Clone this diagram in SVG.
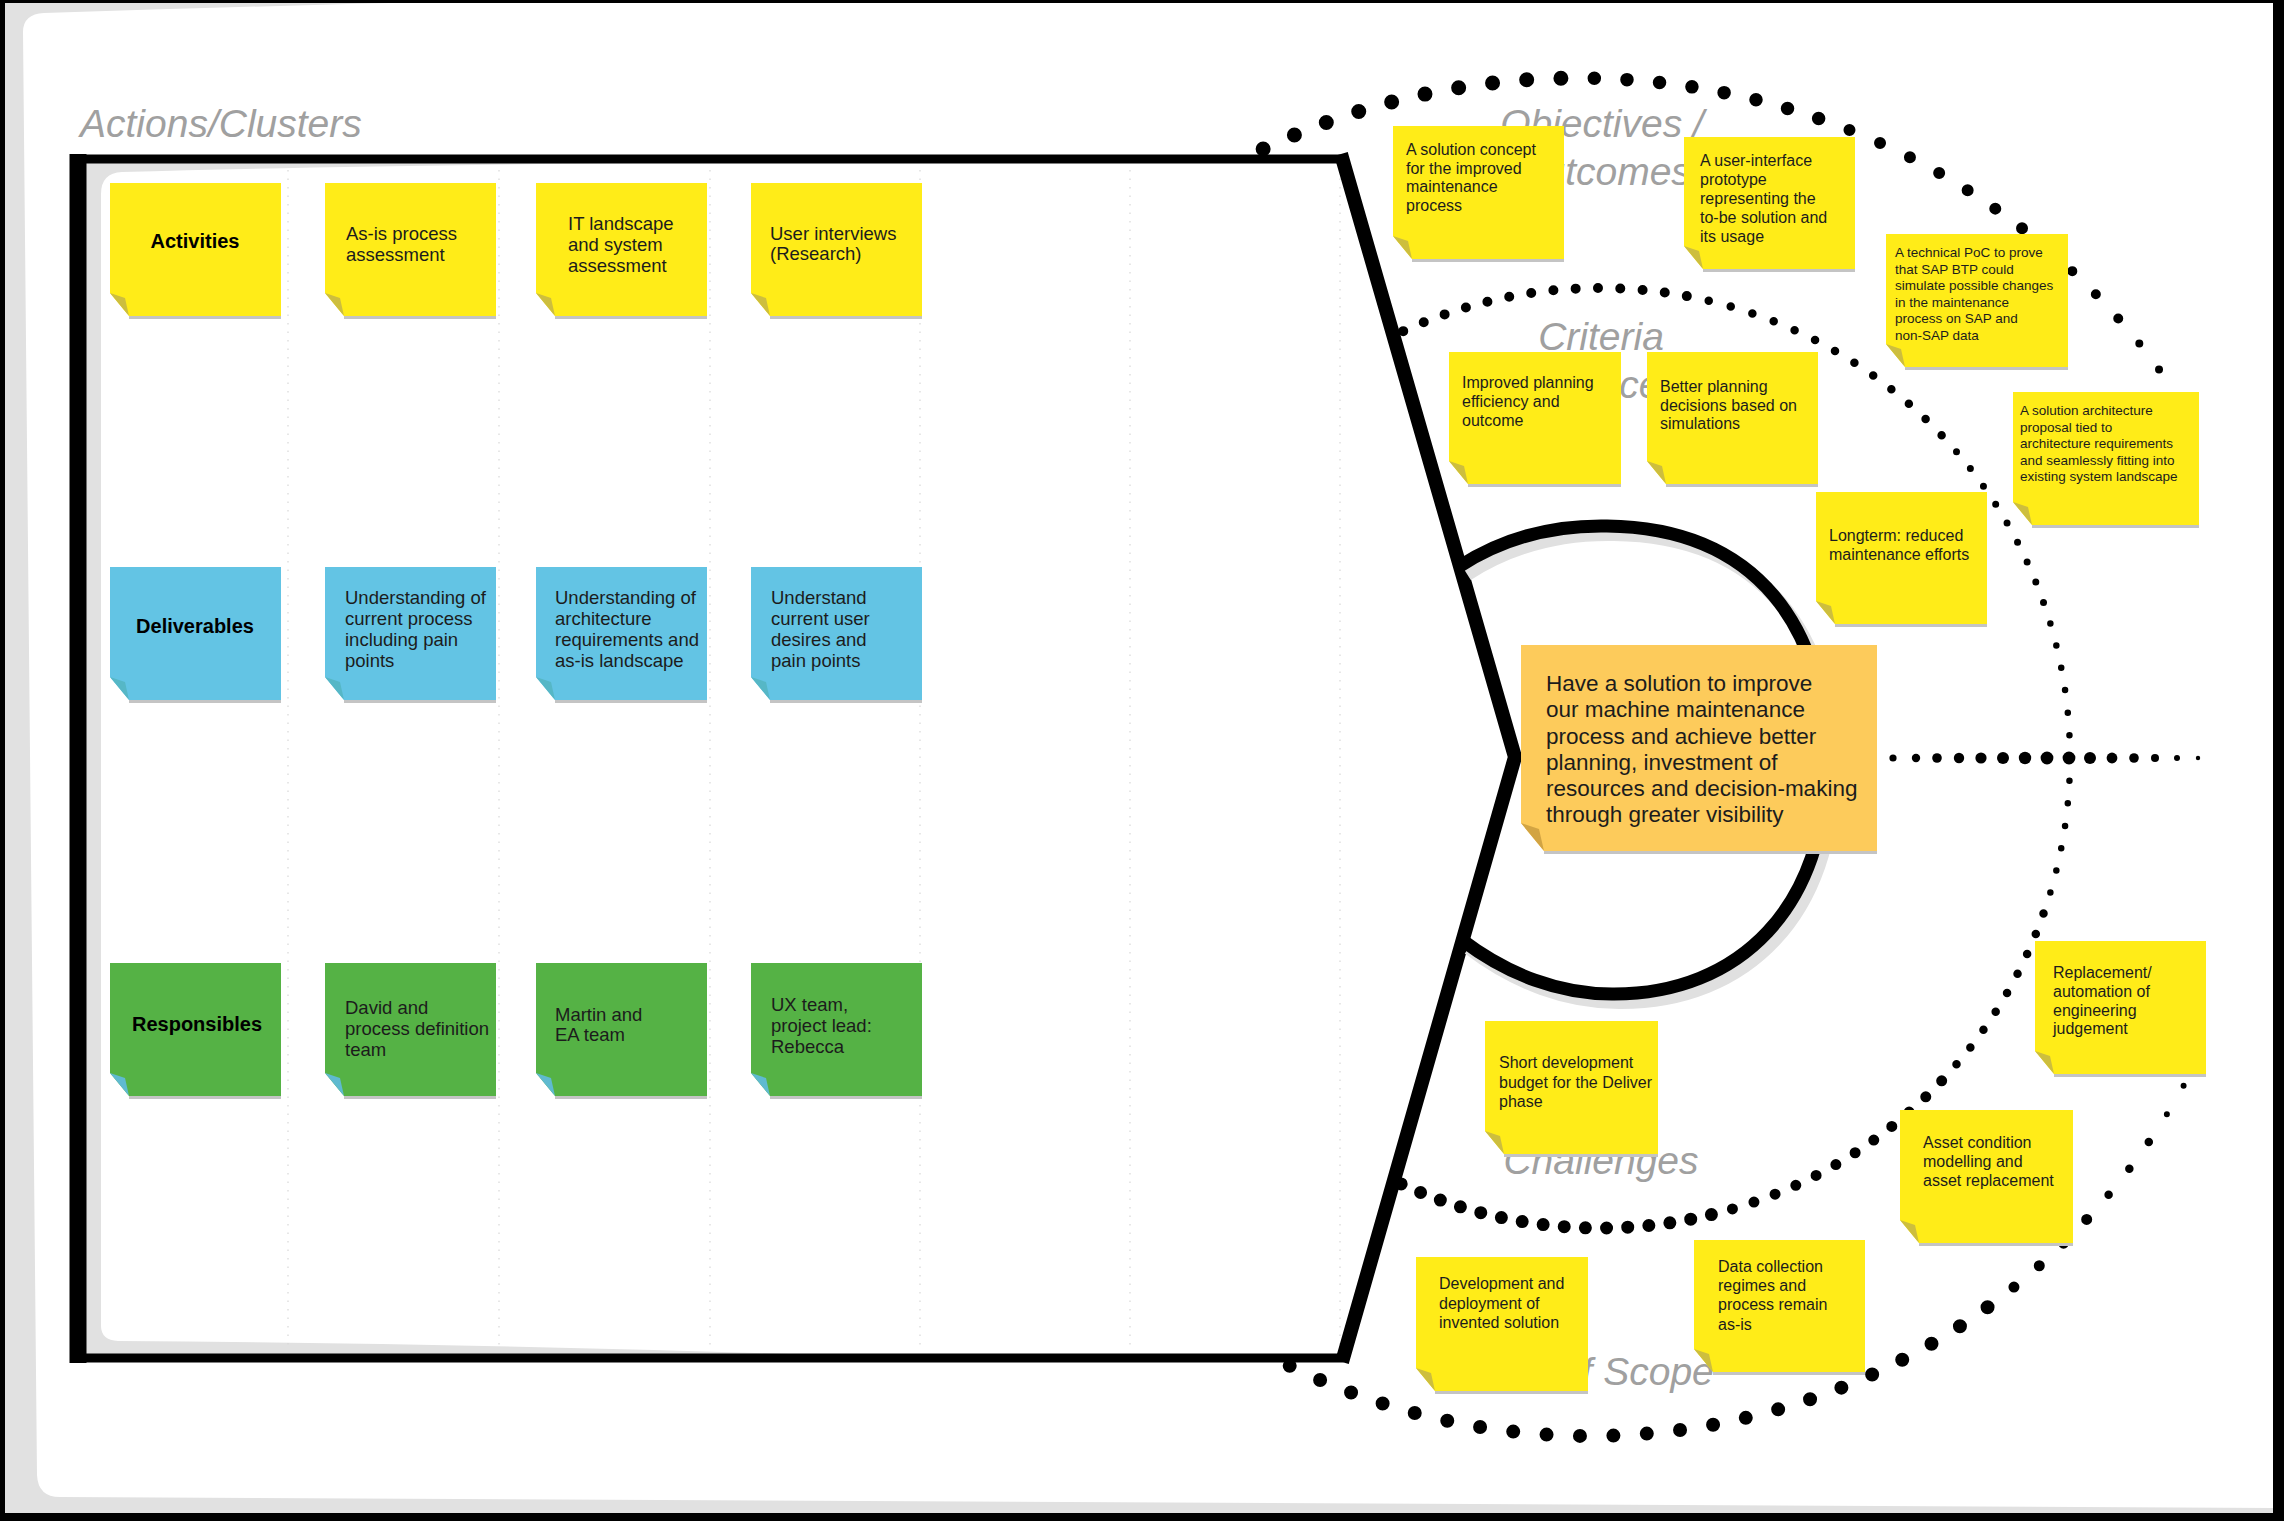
<svg xmlns="http://www.w3.org/2000/svg" width="2284" height="1521" viewBox="0 0 2284 1521">
<style>
.ny{fill:#FFEC18}.nb{fill:#63C4E4}.ng{fill:#55B245}.no{fill:#FDCB5B}
.fy{fill:#CDBE3E}.fb{fill:#56B7C6}.fg{fill:#5FBAD0}.fo{fill:#D2A443}
.sh{stroke:#c4c4c4;stroke-width:3;fill:none}
.t{font-family:"Liberation Sans",Arial,sans-serif;font-size:18.5px;fill:#1c1c1c}
.s16{font-size:16px}.s13{font-size:13.5px}.s22{font-size:22.5px}
.b{font-family:"Liberation Sans",Arial,sans-serif;font-weight:bold;font-size:20px;text-anchor:middle;fill:#000}
.lbl{font-family:"Liberation Sans",Arial,sans-serif;font-style:italic;font-size:39px;fill:#a0a0a0}
.mid{text-anchor:middle}
.dots{fill:none;stroke:#000;stroke-linecap:round;stroke-dasharray:0 1;stroke-dashoffset:-0.5}
.grid{stroke:#d8d8d8;stroke-width:1.2;stroke-dasharray:1.5 7;fill:none}
</style>

<g id="paper">
<rect x="0" y="0" width="2284" height="1521" fill="#000"/>
<rect x="5" y="3" width="2268" height="1510" fill="#e1e1e1"/>
<path d="M23 32 Q23 14 44 13 Q230 7 390 3 L2273 3 L2273 1508 L60 1497 Q38 1497 37 1475 Z" fill="#fff"/>
<text class="lbl" x="80" y="137">Actions/Clusters</text>
</g>

<g id="funnel">
<path d="M78 159 H1343 L1515 757 L1342 1358 H78 Z" fill="#fff"/>
<path d="M84 163 H640 Q330 166 122 172 Q101 173 101 194 V1326 Q101 1340 118 1341 Q450 1343 790 1354 H84 Z" fill="#e1e1e1"/>
<path class="grid" d="M288 170 V1350 M499 170 V1350 M710 170 V1350 M920 170 V1350 M1130 170 V1350 M1340 170 V1350"/>
<path d="M74 159 H1343 L1515 757 L1342 1358 H74" fill="none" stroke="#000" stroke-width="9" stroke-linejoin="round"/>
<path d="M1341 154 L1515 757 L1342 1362" fill="none" stroke="#000" stroke-width="14" stroke-linejoin="round"/>
<path d="M78 154 V1363" stroke="#000" stroke-width="17"/>
</g>

<g id="labels-right">
<text class="lbl mid" x="1602" y="137">Objectives /</text>
<text class="lbl mid" x="1602" y="185">Outcomes</text>
<text class="lbl mid" x="1601" y="350">Criteria</text>
<text class="lbl" x="1500" y="398">Evidence</text>
<text class="lbl mid" x="1601" y="1174">Challenges</text>
<text class="lbl mid" x="1600" y="1385">Out of Scope</text>
</g>

<g id="arcs">
<path class="dots" stroke-width="15" pathLength="10" d="M1247.8 156.5 A708 680 0 0 1 1578 78"/>
<path class="dots" stroke-width="13.5" pathLength="8" d="M1578 78 A708 680 0 0 1 1834 124"/>
<path class="dots" stroke-width="12" pathLength="7" d="M1834 124 A708 680 0 0 1 2035 238.6"/>
<path class="dots" stroke-width="10" pathLength="4" d="M2035 238.6 A708 680 0 0 1 2129 331"/>
<path class="dots" stroke-width="8" pathLength="2" d="M2129 331 A708 680 0 0 1 2168.4 382.7"/>
<path class="dots" stroke-width="5.5" pathLength="2" d="M2168.4 382.7 A708 680 0 0 1 2202.5 437.7"/>

<path class="dots" stroke-width="6" pathLength="2" d="M2191.4 1071 A678 678 0 0 1 2158 1128.3"/>
<path class="dots" stroke-width="8.5" pathLength="3" d="M2158 1128.3 A678 678 0 0 1 2097.8 1207.2"/>
<path class="dots" stroke-width="11" pathLength="4" d="M2097.8 1207.2 A678 678 0 0 1 2000.9 1297.3"/>
<path class="dots" stroke-width="14" pathLength="23" d="M2000.9 1297.3 A678 678 0 0 1 1274.9 1358.3"/>

<path class="dots" stroke-width="10" pathLength="14" d="M1393.2 335.9 A470 470 0 0 1 1697.7 298.3"/>
<path class="dots" stroke-width="8.5" pathLength="13" d="M1697.7 298.3 A470 470 0 0 1 1949.3 443.5"/>
<path class="dots" stroke-width="7" pathLength="9" d="M1949.3 443.5 A470 470 0 0 1 2047 612.8"/>
<path class="dots" stroke-width="6.5" pathLength="13" d="M2047 612.8 A470 470 0 0 1 2047 903.2"/>
<path class="dots" stroke-width="8.5" pathLength="9" d="M2047 903.2 A470 470 0 0 1 1949.3 1072.5"/>
<path class="dots" stroke-width="11" pathLength="12" d="M1949.3 1072.5 A470 470 0 0 1 1721.6 1212"/>
<path class="dots" stroke-width="13" pathLength="16" d="M1721.6 1212 A470 470 0 0 1 1391.7 1179.4"/>

<g fill="#000">
<circle cx="1893" cy="758" r="3.6"/><circle cx="1916" cy="758" r="4.2"/><circle cx="1937" cy="758" r="4.8"/>
<circle cx="1959" cy="758" r="5.2"/><circle cx="1981" cy="758" r="5.6"/><circle cx="2003" cy="758" r="6"/>
<circle cx="2025" cy="758" r="6.2"/><circle cx="2047" cy="758" r="6.4"/><circle cx="2069" cy="758" r="6.4"/>
<circle cx="2090" cy="758" r="6"/><circle cx="2112" cy="758" r="5.4"/><circle cx="2134" cy="758" r="4.8"/>
<circle cx="2155" cy="758" r="4"/><circle cx="2177" cy="758" r="3"/><circle cx="2198" cy="758" r="2.2"/>
</g>

<path d="M1460 566 C1505 537 1555 525 1607 526 C1760 528 1826 632 1826 760 C1828 905 1740 995 1612 994 C1560 994 1508 975 1462 940" fill="none" stroke="#e0e0e0" stroke-width="14" transform="translate(7,8)"/>
<path d="M1460 566 C1505 537 1555 525 1607 526 C1760 528 1826 632 1826 760 C1828 905 1740 995 1612 994 C1560 994 1508 975 1462 940" fill="none" stroke="#000" stroke-width="13"/>
</g>

<g id="activities">
<path class="ny" d="M110 183h171v133h-152l-19-23z"/><path class="fy" d="M110 293l15 5l4 18z"/><path class="sh" d="M129 317.5h152"/>
<text class="b" x="195" y="248">Activities</text>
</g>
<g id="as-is-process">
<path class="ny" d="M325 183h171v133h-152l-19-23z"/><path class="fy" d="M325 293l15 5l4 18z"/><path class="sh" d="M344 317.5h152"/>
<text class="t"><tspan x="346" y="240">As-is process</tspan><tspan x="346" y="261">assessment</tspan></text>
</g>
<g id="it-landscape">
<path class="ny" d="M536 183h171v133h-152l-19-23z"/><path class="fy" d="M536 293l15 5l4 18z"/><path class="sh" d="M555 317.5h152"/>
<text class="t"><tspan x="568" y="230">IT landscape</tspan><tspan x="568" y="251">and system</tspan><tspan x="568" y="272">assessment</tspan></text>
</g>
<g id="user-interviews">
<path class="ny" d="M751 183h171v133h-152l-19-23z"/><path class="fy" d="M751 293l15 5l4 18z"/><path class="sh" d="M770 317.5h152"/>
<text class="t"><tspan x="770" y="240">User interviews</tspan><tspan x="770" y="260">(Research)</tspan></text>
</g>

<g id="deliverables">
<path class="nb" d="M110 567h171v133h-152l-19-23z"/><path class="fb" d="M110 677l15 5l4 18z"/><path class="sh" d="M129 701.5h152"/>
<text class="b" x="195" y="633">Deliverables</text>
</g>
<g id="deliv-process">
<path class="nb" d="M325 567h171v133h-152l-19-23z"/><path class="fb" d="M325 677l15 5l4 18z"/><path class="sh" d="M344 701.5h152"/>
<text class="t"><tspan x="345" y="604">Understanding of</tspan><tspan x="345" y="625">current process</tspan><tspan x="345" y="646">including pain</tspan><tspan x="345" y="667">points</tspan></text>
</g>
<g id="deliv-architecture">
<path class="nb" d="M536 567h171v133h-152l-19-23z"/><path class="fb" d="M536 677l15 5l4 18z"/><path class="sh" d="M555 701.5h152"/>
<text class="t"><tspan x="555" y="604">Understanding of</tspan><tspan x="555" y="625">architecture</tspan><tspan x="555" y="646">requirements and</tspan><tspan x="555" y="667">as-is landscape</tspan></text>
</g>
<g id="deliv-user">
<path class="nb" d="M751 567h171v133h-152l-19-23z"/><path class="fb" d="M751 677l15 5l4 18z"/><path class="sh" d="M770 701.5h152"/>
<text class="t"><tspan x="771" y="604">Understand</tspan><tspan x="771" y="625">current user</tspan><tspan x="771" y="646">desires and</tspan><tspan x="771" y="667">pain points</tspan></text>
</g>

<g id="responsibles">
<path class="ng" d="M110 963h171v133h-152l-19-23z"/><path class="fg" d="M110 1073l15 5l4 18z"/><path class="sh" d="M129 1097.5h152"/>
<text class="b" x="197" y="1031">Responsibles</text>
</g>
<g id="resp-david">
<path class="ng" d="M325 963h171v133h-152l-19-23z"/><path class="fg" d="M325 1073l15 5l4 18z"/><path class="sh" d="M344 1097.5h152"/>
<text class="t"><tspan x="345" y="1014">David and</tspan><tspan x="345" y="1035">process definition</tspan><tspan x="345" y="1056">team</tspan></text>
</g>
<g id="resp-martin">
<path class="ng" d="M536 963h171v133h-152l-19-23z"/><path class="fg" d="M536 1073l15 5l4 18z"/><path class="sh" d="M555 1097.5h152"/>
<text class="t"><tspan x="555" y="1021">Martin and</tspan><tspan x="555" y="1041">EA team</tspan></text>
</g>
<g id="resp-ux">
<path class="ng" d="M751 963h171v133h-152l-19-23z"/><path class="fg" d="M751 1073l15 5l4 18z"/><path class="sh" d="M770 1097.5h152"/>
<text class="t"><tspan x="771" y="1011">UX team,</tspan><tspan x="771" y="1032">project lead:</tspan><tspan x="771" y="1053">Rebecca</tspan></text>
</g>

<g id="obj-solution-concept">
<path class="ny" d="M1393 126h171v133h-152l-19-23z"/><path class="fy" d="M1393 236l15 5l4 18z"/><path class="sh" d="M1412 260.5h152"/>
<text class="t s16"><tspan x="1406" y="155">A solution concept</tspan><tspan x="1406" y="173.5">for the improved</tspan><tspan x="1406" y="192">maintenance</tspan><tspan x="1406" y="210.5">process</tspan></text>
</g>
<g id="obj-ui-prototype">
<path class="ny" d="M1684 137h171v132h-152l-19-23z"/><path class="fy" d="M1684 246l15 5l4 18z"/><path class="sh" d="M1703 270.5h152"/>
<text class="t s16"><tspan x="1700" y="166">A user-interface</tspan><tspan x="1700" y="185">prototype</tspan><tspan x="1700" y="204">representing the</tspan><tspan x="1700" y="223">to-be solution and</tspan><tspan x="1700" y="242">its usage</tspan></text>
</g>
<g id="obj-technical-poc">
<path class="ny" d="M1886 234h182v133h-163l-19-23z"/><path class="fy" d="M1886 344l15 5l4 18z"/><path class="sh" d="M1905 368.5h163"/>
<text class="t s13"><tspan x="1895" y="257">A technical PoC to prove</tspan><tspan x="1895" y="273.5">that SAP BTP could</tspan><tspan x="1895" y="290">simulate possible changes</tspan><tspan x="1895" y="306.5">in the maintenance</tspan><tspan x="1895" y="323">process on SAP and</tspan><tspan x="1895" y="339.5">non-SAP data</tspan></text>
</g>
<g id="obj-solution-architecture">
<path class="ny" d="M2013 392h186v133h-167l-19-23z"/><path class="fy" d="M2013 502l15 5l4 18z"/><path class="sh" d="M2032 526.5h167"/>
<text class="t s13"><tspan x="2020" y="415">A solution architecture</tspan><tspan x="2020" y="431.5">proposal tied to</tspan><tspan x="2020" y="448">architecture requirements</tspan><tspan x="2020" y="464.5">and seamlessly fitting into</tspan><tspan x="2020" y="481">existing system landscape</tspan></text>
</g>

<g id="crit-planning-efficiency">
<path class="ny" d="M1449 352h172v132h-153l-19-23z"/><path class="fy" d="M1449 461l15 5l4 18z"/><path class="sh" d="M1468 485.5h153"/>
<text class="t s16"><tspan x="1462" y="388">Improved planning</tspan><tspan x="1462" y="407">efficiency and</tspan><tspan x="1462" y="426">outcome</tspan></text>
</g>
<g id="crit-better-decisions">
<path class="ny" d="M1647 352h171v132h-152l-19-23z"/><path class="fy" d="M1647 461l15 5l4 18z"/><path class="sh" d="M1666 485.5h152"/>
<text class="t s16"><tspan x="1660" y="392">Better planning</tspan><tspan x="1660" y="410.5">decisions based on</tspan><tspan x="1660" y="429">simulations</tspan></text>
</g>
<g id="crit-longterm">
<path class="ny" d="M1816 492h171v132h-152l-19-23z"/><path class="fy" d="M1816 601l15 5l4 18z"/><path class="sh" d="M1835 625.5h152"/>
<text class="t s16"><tspan x="1829" y="541">Longterm: reduced</tspan><tspan x="1829" y="560">maintenance efforts</tspan></text>
</g>

<g id="goal">
<path class="no" d="M1521 645h356v206h-333l-23-28z"/><path class="fo" d="M1521 823l18 6l5 22z"/><path class="sh" d="M1544 852.5h333"/>
<text class="t s22"><tspan x="1546" y="691">Have a solution to improve</tspan><tspan x="1546" y="717">our machine maintenance</tspan><tspan x="1546" y="743.5">process and achieve better</tspan><tspan x="1546" y="769.5">planning, investment of</tspan><tspan x="1546" y="796">resources and decision-making</tspan><tspan x="1546" y="822">through greater visibility</tspan></text>
</g>

<g id="ch-replacement">
<path class="ny" d="M2035 941h171v133h-152l-19-23z"/><path class="fy" d="M2035 1051l15 5l4 18z"/><path class="sh" d="M2054 1075.5h152"/>
<text class="t s16"><tspan x="2053" y="978">Replacement/</tspan><tspan x="2053" y="997">automation of</tspan><tspan x="2053" y="1016">engineering</tspan><tspan x="2053" y="1034">judgement</tspan></text>
</g>
<g id="ch-short-budget">
<path class="ny" d="M1485 1021h173v133h-154l-19-23z"/><path class="fy" d="M1485 1131l15 5l4 18z"/><path class="sh" d="M1504 1155.5h154"/>
<text class="t s16"><tspan x="1499" y="1068">Short development</tspan><tspan x="1499" y="1088">budget for the Deliver</tspan><tspan x="1499" y="1107">phase</tspan></text>
</g>
<g id="ch-asset-condition">
<path class="ny" d="M1900 1110h173v133h-154l-19-23z"/><path class="fy" d="M1900 1220l15 5l4 18z"/><path class="sh" d="M1919 1244.5h154"/>
<text class="t s16"><tspan x="1923" y="1148">Asset condition</tspan><tspan x="1923" y="1167">modelling and</tspan><tspan x="1923" y="1186">asset replacement</tspan></text>
</g>
<g id="oos-development">
<path class="ny" d="M1416 1257h172v134h-153l-19-23z"/><path class="fy" d="M1416 1368l15 5l4 18z"/><path class="sh" d="M1435 1392.5h153"/>
<text class="t s16"><tspan x="1439" y="1289">Development and</tspan><tspan x="1439" y="1309">deployment of</tspan><tspan x="1439" y="1328">invented solution</tspan></text>
</g>
<g id="oos-data-collection">
<path class="ny" d="M1694 1240h171v132h-152l-19-23z"/><path class="fy" d="M1694 1349l15 5l4 18z"/><path class="sh" d="M1713 1373.5h152"/>
<text class="t s16"><tspan x="1718" y="1272">Data collection</tspan><tspan x="1718" y="1291">regimes and</tspan><tspan x="1718" y="1310">process remain</tspan><tspan x="1718" y="1330">as-is</tspan></text>
</g>
</svg>
